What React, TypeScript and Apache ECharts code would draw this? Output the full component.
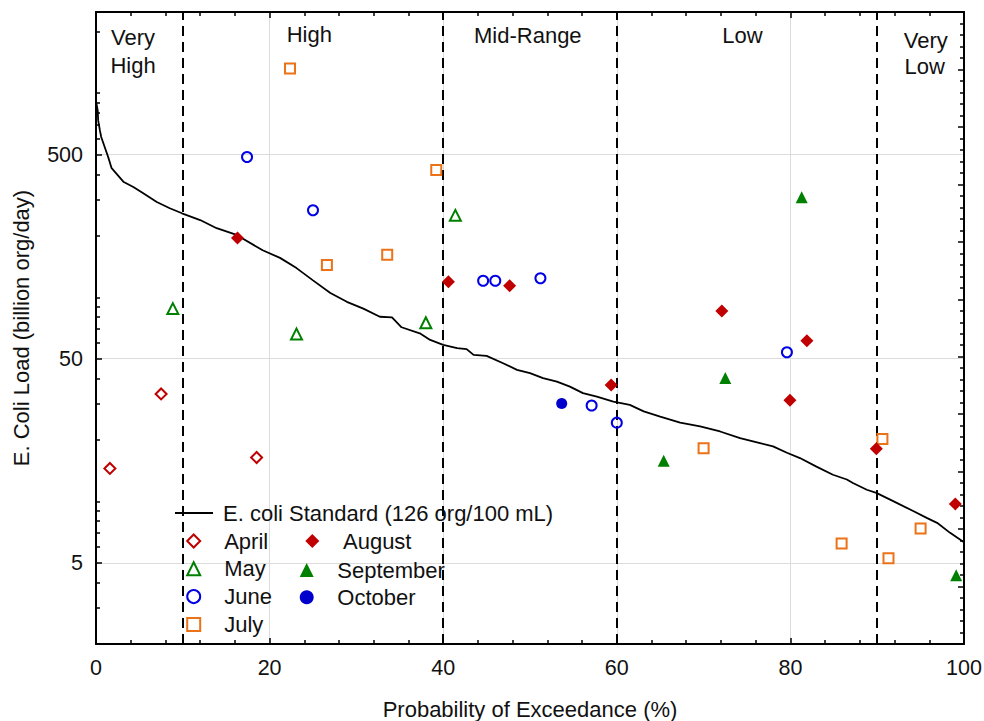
import React, { useEffect, useRef } from "react";
import * as echarts from "echarts";

// ---- Data ----
const curveX = [0, 0.2, 0.25, 0.45, 0.6, 1.0, 1.4, 1.8, 3.2, 4.3, 5.4, 7.0, 8.5, 9.9, 12.0, 13.9, 16.2, 19.2, 21.2, 23.1, 25.0, 27.0, 28.9, 30.8, 32.7, 34.1, 35.2, 37.3, 38.5, 40.0, 41.6, 42.7, 43.5, 45.0, 46.9, 48.5, 50.0, 51.5, 53.1, 54.6, 56.1, 57.7, 59.6, 61.5, 63.1, 65.0, 67.3, 69.6, 71.9, 74.2, 76.5, 78.0, 79.6, 81.1, 83.0, 84.9, 86.5, 87.2, 88.8, 89.9, 91.9, 94.2, 95.7, 96.9, 98.4, 100];
const curveY = [920, 820, 736, 657, 610, 545, 487, 429, 367, 347, 324, 293, 273, 258, 239, 218, 202, 170, 156, 139, 121, 105, 95, 88, 80.3, 79.8, 71.3, 66.6, 61.8, 58.4, 56.3, 55.7, 52.2, 51.6, 47.5, 44.1, 42.5, 40.2, 38.6, 36.5, 33.9, 32.6, 30.8, 29.7, 27.6, 26.0, 24.3, 23.3, 22.0, 20.4, 19.3, 18.6, 17.3, 16.3, 14.8, 13.5, 12.8, 12.3, 11.4, 11.0, 10.0, 8.94, 8.3, 7.85, 7.01, 6.3];

const aprilX = [1.6, 7.5, 18.5];
const aprilY = [14.5, 33.6, 16.4];
const mayX = [8.85, 23.1, 38.0, 41.4];
const mayY = [88, 66, 75, 252];
const juneX = [17.4, 25.0, 44.6, 46.0, 51.2, 57.1, 60.0, 79.6];
const juneY = [487, 267, 120.5, 120.5, 124, 29.5, 24.3, 53.8];
const julyX = [22.35, 26.6, 33.55, 39.2, 70.0, 85.9, 90.6, 91.3, 95.0];
const julyY = [1321, 144, 161.5, 420, 18.2, 6.21, 20.2, 5.27, 7.36];
const augustX = [16.3, 40.6, 47.65, 59.35, 72.1, 79.95, 81.9, 89.9, 99.0];
const augustY = [195, 119, 114, 37.2, 85.7, 31.3, 61.3, 18.1, 9.72];
const septemberX = [65.4, 72.5, 81.3, 99.1];
const septemberY = [15.8, 40.2, 309, 4.34];
const octoberX = [53.65];
const octoberY = [30.2];

const bandBoundaries = [10, 40, 60, 90];
const yLabelValues = [5, 50, 500];
const yMinorTickValues = [2, 3, 4, 6, 7, 8, 9, 10, 20, 30, 40, 60, 70, 80, 90, 100, 200, 300, 400, 600, 700, 800, 900, 1000, 2000];

const STANDARD = "E. coli Standard (126 org/100 mL)";

const zip = (xs: number[], ys: number[]) => xs.map((x, i) => [x, ys[i]]);

const FONT = '"Liberation Sans", Arial, Helvetica, sans-serif';
const RED = "#c00000";
const GREEN = "#008000";
const BLUE = "#0000e6";
const ORANGE = "#ec7218";
const CLEAR = "rgba(255,255,255,0)";

export default function App() {
  const ref = useRef<HTMLDivElement>(null);

  useEffect(() => {
    if (!ref.current) return;
    const chart = echarts.init(ref.current, undefined, { renderer: "svg" });

    const axisLine = { show: true, onZero: false, lineStyle: { color: "#000", width: 2 } };
    const tickStyle = { color: "#000", width: 1.5 };
    const labelStyle = { color: "#111", fontFamily: FONT, fontSize: 21.5 };
    const nameStyle = { color: "#111", fontFamily: FONT, fontSize: 22 };

    const scatter = (name: string, xs: number[], ys: number[], symbol: string, size: number, color: string, open: boolean) => ({
      name,
      type: "scatter",
      xAxisIndex: 0,
      yAxisIndex: 0,
      symbol,
      symbolSize: size,
      symbolKeepAspect: true,
      data: zip(xs, ys),
      itemStyle: open
        ? { color: CLEAR, borderColor: color, borderWidth: 2, opacity: 1 }
        : { color, borderWidth: 0, opacity: 1 },
      z: 5,
    });

    const legendText = {
      color: "#111",
      fontFamily: FONT,
      fontSize: 22,
      lineHeight: 22,
    };

    const bandText = (text: string, x: number, y: number) => ({
      type: "text",
      x,
      y,
      silent: true,
      style: {
        text,
        fill: "#111",
        fontFamily: FONT,
        fontSize: 22,
        align: "center",
        verticalAlign: "middle",
        textAlign: "center",
        textVerticalAlign: "middle",
      },
      z: 10,
    });

    chart.setOption({
      animation: false,
      backgroundColor: "#fff",
      grid: { left: 96, right: 20, top: 12, bottom: 77, containLabel: false, outerBoundsMode: "none" },
      xAxis: [
        {
          type: "value",
          min: 0,
          max: 100,
          interval: 20,
          position: "bottom",
          axisLine,
          axisTick: { show: true, inside: true, length: 6, lineStyle: tickStyle },
          minorTick: { show: true, splitNumber: 5, length: 4, lineStyle: tickStyle },
          axisLabel: { ...labelStyle, margin: 13 },
          splitLine: { show: true, lineStyle: { color: "#dcdcdc", width: 1 } },
          name: "Probability of Exceedance (%)",
          nameLocation: "middle",
          nameGap: 54,
          nameTextStyle: nameStyle,
        },
        {
          type: "value",
          min: 0,
          max: 100,
          interval: 20,
          position: "top",
          axisLine,
          axisTick: { show: true, inside: true, length: 6, lineStyle: tickStyle },
          minorTick: { show: true, splitNumber: 5, length: 4, lineStyle: tickStyle },
          axisLabel: { show: false },
          splitLine: { show: false },
        },
      ],
      yAxis: [
        {
          type: "log",
          logBase: 10,
          min: 2,
          max: 2500,
          position: "left",
          axisLine,
          axisTick: { show: true, inside: true, length: 6, lineStyle: tickStyle, customValues: yLabelValues },
          axisLabel: { ...labelStyle, margin: 13, customValues: yLabelValues },
          splitLine: { show: true, lineStyle: { color: "#dcdcdc", width: 1 } },
          name: "E. Coli Load (billion org/day)",
          nameLocation: "middle",
          nameGap: 64,
          nameTextStyle: nameStyle,
        },
        {
          type: "log",
          logBase: 10,
          min: 2,
          max: 2500,
          position: "left",
          axisLine: { show: false },
          axisTick: { show: true, inside: true, length: 4, lineStyle: tickStyle, customValues: yMinorTickValues },
          axisLabel: { show: false },
          splitLine: { show: false },
        },
        {
          type: "value",
          min: 0,
          max: 11,
          interval: 1,
          position: "right",
          axisLine,
          axisTick: { show: true, inside: true, length: 6, lineStyle: tickStyle },
          minorTick: { show: true, splitNumber: 5, length: 4, lineStyle: tickStyle },
          axisLabel: { show: false },
          splitLine: { show: false },
        },
      ],
      legend: [
        {
          data: [{ name: STANDARD, icon: "rect" }],
          left: 175,
          top: 502,
          padding: 0,
          itemWidth: 38,
          itemHeight: 2,
          selectedMode: false,
          textStyle: { ...legendText, padding: [0, 0, 0, 5] },
        },
        {
          data: ["April", "May", "June", "July"],
          orient: "vertical",
          left: 186.2,
          top: 530,
          padding: 0,
          itemWidth: 13,
          itemHeight: 13,
          itemGap: 5.8,
          symbolKeepAspect: true,
          selectedMode: false,
          textStyle: { ...legendText, padding: [0, 0, 0, 19] },
        },
        {
          data: ["August"],
          orient: "vertical",
          left: 305.3,
          top: 530,
          padding: 0,
          itemWidth: 14,
          itemHeight: 14,
          symbolKeepAspect: true,
          selectedMode: false,
          textStyle: { ...legendText, padding: [0, 0, 0, 18.7] },
        },
        {
          data: ["September", "October"],
          orient: "vertical",
          left: 299.7,
          top: 559,
          padding: 0,
          itemWidth: 14,
          itemHeight: 14,
          itemGap: 5.3,
          symbolKeepAspect: true,
          selectedMode: false,
          textStyle: { ...legendText, padding: [0, 0, 0, 18.6] },
        },
      ],
      graphic: [
        bandText("Very", 133, 37.4),
        bandText("High", 133, 65),
        bandText("High", 309.3, 34.3),
        bandText("Mid-Range", 527.8, 35.7),
        bandText("Low", 742.5, 35.2),
        bandText("Very", 925.8, 40.1),
        bandText("Low", 924.7, 66.6),
      ],
      series: [
        {
          name: STANDARD,
          type: "line",
          xAxisIndex: 0,
          yAxisIndex: 0,
          data: zip(curveX, curveY),
          symbol: "none",
          showSymbol: false,
          lineStyle: { color: "#000", width: 1.8 },
          itemStyle: { color: "#000" },
          z: 3,
          markLine: {
            silent: true,
            symbol: ["none", "none"],
            label: { show: false },
            lineStyle: { color: "#000", width: 2, type: [10, 6] },
            data: bandBoundaries.map((x) => ({ xAxis: x })),
          },
        },
        scatter("April", aprilX, aprilY, "diamond", 11, RED, true),
        scatter("May", mayX, mayY, "triangle", 11, GREEN, true),
        scatter("June", juneX, juneY, "circle", 10, BLUE, true),
        scatter("July", julyX, julyY, "rect", 10, ORANGE, true),
        scatter("August", augustX, augustY, "diamond", 13, RED, false),
        scatter("September", septemberX, septemberY, "triangle", 12, GREEN, false),
        scatter("October", octoberX, octoberY, "circle", 11, "#0000cc", false),
      ],
    });

    return () => chart.dispose();
  }, []);

  return (
    <div
      ref={ref}
      style={{ position: "fixed", left: 0, top: 0, width: 984, height: 721, background: "#fff" }}
    />
  );
}
